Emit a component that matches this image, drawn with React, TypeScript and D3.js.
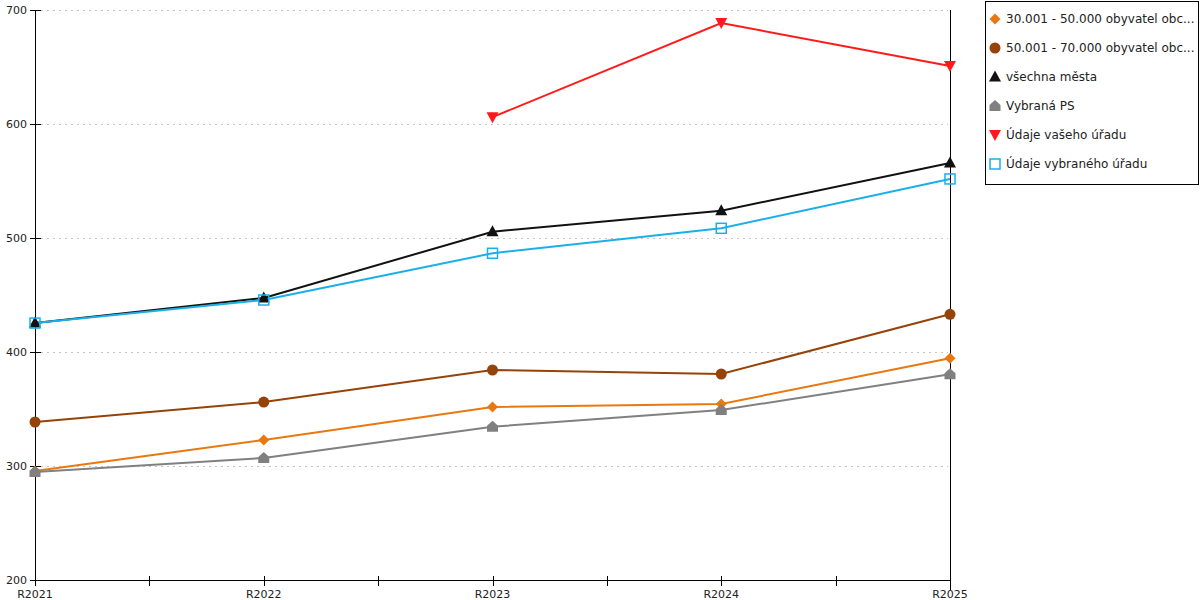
import * as d3 from 'd3';

const years = ['R2021', 'R2022', 'R2023', 'R2024', 'R2025'];
const yTicks = [200, 300, 400, 500, 600, 700];

const obce30 = [295.6, 322.8, 351.8, 354.4, 394.5];
const obce50 = [338.6, 356.1, 384.2, 380.7, 433.1];
const vsechnaMesta = [425.4, 447.4, 505.5, 524.0, 565.8];
const vybranaPS = [294.7, 307.0, 334.5, 349.1, 380.4];
const vasUrad = [null, null, 606.0, 688.6, 650.9];
const vybranyUrad = [425.4, 445.6, 486.6, 508.5, 551.8];

type Marker = 'diamond' | 'circle' | 'triangle' | 'house' | 'down' | 'square';

const series: { name: string; values: (number | null)[]; color: string; marker: Marker }[] = [
  { name: '30.001 - 50.000 obyvatel obc...', values: obce30, color: '#e8780f', marker: 'diamond' },
  { name: '50.001 - 70.000 obyvatel obc...', values: obce50, color: '#964309', marker: 'circle' },
  { name: 'všechna města', values: vsechnaMesta, color: '#111111', marker: 'triangle' },
  { name: 'Vybraná PS', values: vybranaPS, color: '#808080', marker: 'house' },
  { name: 'Údaje vašeho úřadu', values: vasUrad, color: '#ff1a1a', marker: 'down' },
  { name: 'Údaje vybraného úřadu', values: vybranyUrad, color: '#19b0ea', marker: 'square' },
];

const font = '"DejaVu Sans", Verdana, sans-serif';

function MarkerShape({ type, x, y, color }: { type: Marker; x: number; y: number; color: string }) {
  switch (type) {
    case 'diamond':
      return <path d={`M${x},${y - 5.5}L${x + 5.5},${y}L${x},${y + 5.5}L${x - 5.5},${y}Z`} fill={color} />;
    case 'circle':
      return <circle cx={x} cy={y} r={5.5} fill={color} />;
    case 'triangle':
      return <path d={`M${x},${y - 6.5}L${x + 6},${y + 4.5}L${x - 6},${y + 4.5}Z`} fill={color} />;
    case 'house':
      return (
        <path
          d={`M${x},${y - 6}L${x + 5.5},${y - 1}L${x + 5.5},${y + 5}L${x - 5.5},${y + 5}L${x - 5.5},${y - 1}Z`}
          fill={color}
        />
      );
    case 'down':
      return <path d={`M${x - 6},${y - 5}L${x + 6},${y - 5}L${x},${y + 6}Z`} fill={color} />;
    case 'square':
      return (
        <rect x={x - 5} y={y - 5} width={10} height={10} fill="none" stroke={color} strokeWidth={1.5} />
      );
  }
}

export default function App() {
  const width = 1200;
  const height = 600;
  const x = d3.scalePoint<string>().domain(years).range([35, 950]);
  const y = d3.scaleLinear().domain([200, 700]).range([580, 10]);
  const step = x.step();
  const px = (v: number) => Math.round(v) + 0.5;

  const line = d3
    .line<number | null>()
    .defined((d) => d != null)
    .x((_, i) => x(years[i]) ?? 0)
    .y((d) => y(d as number));

  const minorTicks = years.slice(0, -1).map((yr) => (x(yr) ?? 0) + step / 2);

  return (
    <svg
      width={width}
      height={height}
      style={{ position: 'absolute', left: 0, top: 0, fontFamily: font }}
    >
      <rect width={width} height={height} fill="white" />

      {/* grid */}
      {yTicks.slice(1).map((t) => (
        <line
          key={t}
          x1={41}
          x2={948}
          y1={px(y(t))}
          y2={px(y(t))}
          stroke="#c4c4c4"
          strokeDasharray="2,4"
        />
      ))}

      {/* axes */}
      <g stroke="black" shapeRendering="crispEdges">
        <line x1={px(35)} x2={px(35)} y1={y(700)} y2={y(200)} />
        <line x1={px(950)} x2={px(950)} y1={y(700)} y2={590} />
        <line x1={35} x2={950} y1={px(y(200))} y2={px(y(200))} />
        {yTicks.map((t) => (
          <line key={t} x1={30} x2={41} y1={px(y(t))} y2={px(y(t))} />
        ))}
        {years.map((yr) => (
          <line key={yr} x1={px(x(yr) ?? 0)} x2={px(x(yr) ?? 0)} y1={576} y2={586} />
        ))}
        {minorTicks.map((mx) => (
          <line key={mx} x1={px(mx)} x2={px(mx)} y1={576} y2={586} />
        ))}
      </g>
      {yTicks.map((t) => (
        <text key={t} x={27} y={y(t)} dy="0.35em" textAnchor="end" fontSize={11} fill="#222">
          {t}
        </text>
      ))}
      {years.map((yr) => (
        <text key={yr} x={x(yr)} y={598} textAnchor="middle" fontSize={11} fill="#222">
          {yr}
        </text>
      ))}

      {/* series */}
      {series.map((s) => (
        <path key={s.name} d={line(s.values) ?? ''} fill="none" stroke={s.color} strokeWidth={2} />
      ))}
      {series.map((s) =>
        s.values.map((v, i) =>
          v == null ? null : (
            <MarkerShape key={s.name + i} type={s.marker} x={x(years[i]) ?? 0} y={y(v)} color={s.color} />
          )
        )
      )}

      {/* legend */}
      <rect x={985.5} y={1.5} width={213} height={183} fill="white" stroke="black" shapeRendering="crispEdges" />
      {series.map((s, i) => {
        const ly = 19 + i * 29;
        return (
          <g key={s.name}>
            <MarkerShape type={s.marker} x={995} y={ly} color={s.color} />
            <text x={1006} y={ly} dy="0.35em" fontSize={12} fill="#222">
              {s.name}
            </text>
          </g>
        );
      })}
    </svg>
  );
}
